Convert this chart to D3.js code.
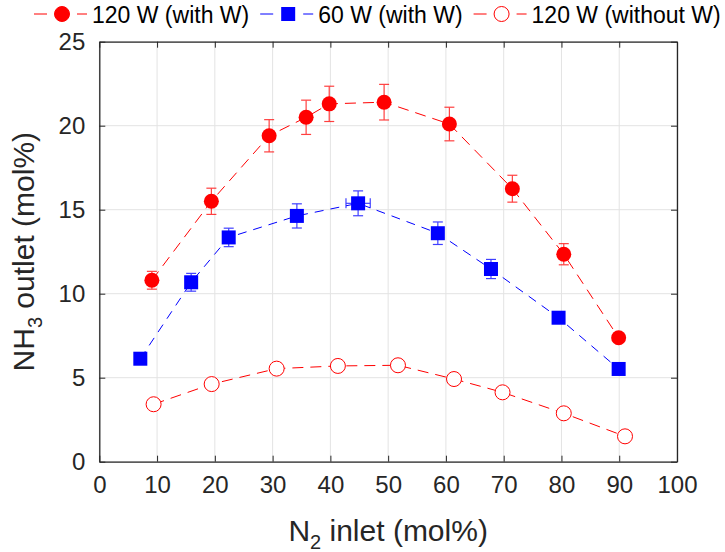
<!DOCTYPE html>
<html>
<head>
<meta charset="utf-8">
<script src="https://cdn.jsdelivr.net/npm/d3@7"></script>
<style>
  body { margin: 0; background: #fff; }
  svg { font-family: Arial, "Liberation Sans", Helvetica, sans-serif; }
</style>
</head>
<body>
<svg id="chart" width="725" height="552"></svg>
<script>
// 120 W (with W)
const redX = [9.1, 19.4, 29.4, 35.8, 39.8, 49.3, 60.6, 71.5, 80.4, 89.9];
const redY = [10.8, 15.5, 19.4, 20.5, 21.3, 21.4, 20.1, 16.25, 12.35, 7.38];
const redErr = [0.53, 0.78, 0.96, 1.02, 1.05, 1.06, 1.0, 0.8, 0.63, 0.2];

// 60 W (with W)
const blueX = [7.1, 15.9, 22.4, 34.2, 44.8, 58.6, 67.8, 79.5, 89.9];
const blueY = [6.13, 10.68, 13.35, 14.63, 15.38, 13.6, 11.47, 8.57, 5.52];
const blueErr = [0, 0.53, 0.55, 0.72, 0.74, 0.67, 0.57, 0.3, 0.2];
const blueXErr = [0, 0, 0, 0, 2.1, 0, 0, 0, 0];

// 120 W (without W)
const openX = [9.4, 19.45, 30.7, 41.3, 51.7, 61.4, 69.8, 80.4, 91.0];
const openY = [3.42, 4.62, 5.54, 5.7, 5.74, 4.92, 4.13, 2.88, 1.51];

const xTicks = [0, 10, 20, 30, 40, 50, 60, 70, 80, 90, 100];
const yTicks = [0, 5, 10, 15, 20, 25];
const legendLabels = ["120 W (with W)", "60 W (with W)", "120 W (without W)"];

const margin = {top: 41.7, right: 48, bottom: 90.3, left: 99.3};
const svg = d3.select("#chart");
const width = 725 - margin.left - margin.right;
const height = 552 - margin.top - margin.bottom;
const g = svg.append("g").attr("transform", `translate(${margin.left},${margin.top})`);

const x = d3.scaleLinear().domain([0, 100]).range([0, width]);
const y = d3.scaleLinear().domain([0, 25]).range([height, 0]);

// grid
g.selectAll(".gx").data(xTicks).enter().append("line")
  .attr("x1", d => x(d)).attr("x2", d => x(d))
  .attr("y1", 0).attr("y2", height)
  .style("stroke", "#e3e3e3").style("stroke-width", 1);
g.selectAll(".gy").data(yTicks).enter().append("line")
  .attr("x1", 0).attr("x2", width)
  .attr("y1", d => y(d)).attr("y2", d => y(d))
  .style("stroke", "#e3e3e3").style("stroke-width", 1);

// axes (box, inward ticks)
const axisColor = "#262626";
const styleAxis = sel => {
  sel.select(".domain").style("stroke", axisColor).style("stroke-width", 1.3);
  sel.selectAll(".tick line").style("stroke", axisColor).style("stroke-width", 1);
  sel.selectAll(".tick text").style("fill", axisColor).style("font-size", "24px");
};
g.append("g").attr("transform", `translate(0,${height})`)
  .call(d3.axisBottom(x).tickValues(xTicks).tickSizeInner(-6).tickSizeOuter(0).tickPadding(14))
  .call(styleAxis);
g.append("g")
  .call(d3.axisTop(x).tickValues(xTicks).tickSizeInner(-6).tickSizeOuter(0).tickFormat(""))
  .call(styleAxis);
g.append("g")
  .call(d3.axisLeft(y).tickValues(yTicks).tickSizeInner(-6).tickSizeOuter(0).tickPadding(14))
  .call(styleAxis);
g.append("g").attr("transform", `translate(${width},0)`)
  .call(d3.axisRight(y).tickValues(yTicks).tickSizeInner(-6).tickSizeOuter(0).tickFormat(""))
  .call(styleAxis);

// axis labels
const xl = svg.append("text")
  .attr("x", margin.left + width / 2).attr("y", 541)
  .attr("text-anchor", "middle").style("font-size", "30px").style("fill", axisColor);
xl.append("tspan").text("N");
xl.append("tspan").attr("dy", 8).style("font-size", "20px").text("2");
xl.append("tspan").attr("dy", -8).text(" inlet (mol%)");

const yl = svg.append("text")
  .attr("transform", `translate(34,${margin.top + height / 2}) rotate(-90)`)
  .attr("text-anchor", "middle").style("font-size", "30px").style("fill", axisColor);
yl.append("tspan").text("NH");
yl.append("tspan").attr("dy", 8).style("font-size", "20px").text("3");
yl.append("tspan").attr("dy", -8).text(" outlet (mol%)");

const line = d3.line().x(d => x(d[0])).y(d => y(d[1]));
const cap = 5;

// series 1: red filled
const red = redX.map((d, i) => [d, redY[i], redErr[i]]);
g.append("path").datum(red).attr("d", line)
  .style("fill", "none").style("stroke", "#ff0000").style("stroke-width", 1)
  .style("stroke-dasharray", "11,7");

// series 2: blue squares
const blue = blueX.map((d, i) => [d, blueY[i], blueErr[i], blueXErr[i]]);
g.append("path").datum(blue).attr("d", line)
  .style("fill", "none").style("stroke", "#0000ff").style("stroke-width", 1)
  .style("stroke-dasharray", "9,7");

// series 3: open circles
const open = openX.map((d, i) => [d, openY[i]]);
g.append("path").datum(open).attr("d", line)
  .style("fill", "none").style("stroke", "#ff0000").style("stroke-width", 1)
  .style("stroke-dasharray", "11,7");

const drawErr = (data, color) => {
  const eb = g.append("g").style("stroke", color).style("stroke-width", 1.2).style("opacity", 0.75);
  data.filter(d => d[2] > 0).forEach(d => {
    const cx = x(d[0]), t = y(d[1] + d[2]), b = y(d[1] - d[2]);
    eb.append("line").attr("x1", cx).attr("x2", cx).attr("y1", t).attr("y2", b);
    eb.append("line").attr("x1", cx - cap).attr("x2", cx + cap).attr("y1", t).attr("y2", t);
    eb.append("line").attr("x1", cx - cap).attr("x2", cx + cap).attr("y1", b).attr("y2", b);
  });
  data.filter(d => d[3] > 0).forEach(d => {
    const cy = y(d[1]), l = x(d[0] - d[3]), r = x(d[0] + d[3]);
    eb.append("line").attr("x1", l).attr("x2", r).attr("y1", cy).attr("y2", cy);
    eb.append("line").attr("x1", l).attr("x2", l).attr("y1", cy - cap).attr("y2", cy + cap);
    eb.append("line").attr("x1", r).attr("x2", r).attr("y1", cy - cap).attr("y2", cy + cap);
  });
};
drawErr(red, "#ff0000");
drawErr(blue, "#0000ff");

g.selectAll(".redpt").data(red).enter().append("circle")
  .attr("cx", d => x(d[0])).attr("cy", d => y(d[1])).attr("r", 7.5)
  .style("fill", "#ff0000");
g.selectAll(".bluept").data(blue).enter().append("rect")
  .attr("x", d => x(d[0]) - 7).attr("y", d => y(d[1]) - 7)
  .attr("width", 14).attr("height", 14)
  .style("fill", "#0000ff");
g.selectAll(".openpt").data(open).enter().append("circle")
  .attr("cx", d => x(d[0])).attr("cy", d => y(d[1])).attr("r", 7.5)
  .style("fill", "#fff").style("stroke", "#ff0000").style("stroke-width", 1);

// legend
const leg = svg.append("g");
let lx = 62;
legendLabels.forEach((label, i) => {
  const color = i === 1 ? "#0000ff" : "#ff0000";
  const item = leg.append("g");
  item.append("line").attr("x1", lx - 28).attr("x2", lx - 15).attr("y1", 14).attr("y2", 14)
    .style("stroke", color).style("stroke-width", 1);
  item.append("line").attr("x1", lx + 15).attr("x2", lx + 25).attr("y1", 14).attr("y2", 14)
    .style("stroke", color).style("stroke-width", 1);
  if (i === 1) {
    item.append("rect").attr("x", lx - 7).attr("y", 7).attr("width", 14).attr("height", 14)
      .style("fill", color);
  } else {
    item.append("circle").attr("cx", lx).attr("cy", 14).attr("r", 7.5)
      .style("fill", i === 0 ? color : "#fff").style("stroke", color).style("stroke-width", 1);
  }
  const t = item.append("text").attr("x", lx + 30).attr("y", 22.5)
    .style("font-size", "23px").style("fill", "#000").text(label);
  lx = lx + 30 + t.node().getComputedTextLength() + 39;
});
</script>
</body>
</html>
